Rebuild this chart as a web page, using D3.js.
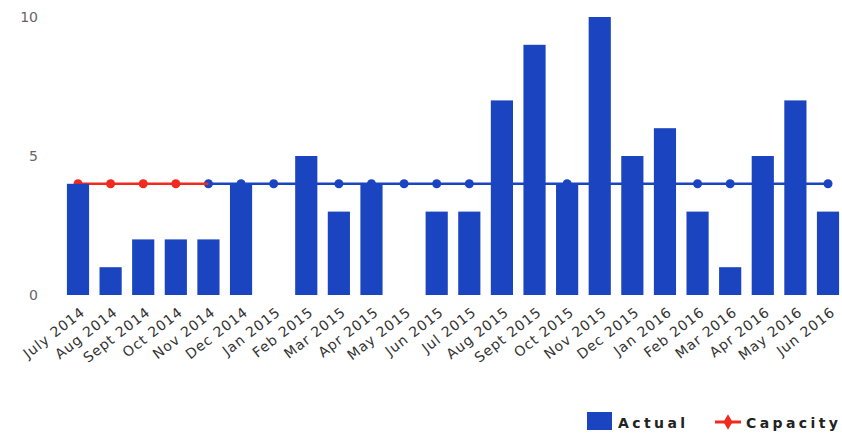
<!DOCTYPE html>
<html><head><meta charset="utf-8">
<script src="https://cdn.jsdelivr.net/npm/d3@7"></script>
<style>body{margin:0;background:#fff}svg{display:block}</style>
</head><body>
<script>
const categories = ["July 2014","Aug 2014","Sept 2014","Oct 2014","Nov 2014","Dec 2014","Jan 2015","Feb 2015","Mar 2015","Apr 2015","May 2015","Jun 2015","Jul 2015","Aug 2015","Sept 2015","Oct 2015","Nov 2015","Dec 2015","Jan 2016","Feb 2016","Mar 2016","Apr 2016","May 2016","Jun 2016"];
const actual = [4,1,2,2,2,4,0,5,3,4,0,3,3,7,9,4,10,5,6,3,1,5,7,3];
const capacity = [4,4,4,4,4,4,4,4,4,4,4,4,4,4,4,4,4,4,4,4,4,4,4,4];
const capacityRedEnd = 4; // red segment covers indices 0..4, blue continues from 4
const yTicks = [0,5,10];

const W = 842, H = 435;
const svg = d3.select("body").append("svg").attr("width", W).attr("height", H);
const x = d3.scalePoint().domain(categories).range([78, 828]);
const step = x.step();
const bw = step * 0.68;
const y = d3.scaleLinear().domain([0, 10]).range([295, 17]);

const BLUE = "#1b45c0", RED = "#f02a1e";

// y axis labels
const yAxis = d3.axisLeft(y).tickValues(yTicks).tickSize(0).tickPadding(0);
const gy = svg.append("g").attr("transform", "translate(38,0)").call(yAxis);
gy.select(".domain").remove();
gy.selectAll("text").attr("fill", "#666").style("font-family", "DejaVu Sans").style("font-size", "14px");

// capacity lines (behind bars)
const line = d3.line().x((d) => x(d.c)).y((d) => y(d.v));
const capData = categories.map((c, i) => ({c, v: capacity[i], i}));
const redData = capData.filter(d => d.i <= capacityRedEnd);
const blueData = capData.filter(d => d.i >= capacityRedEnd);
svg.append("path").datum(blueData).attr("d", line).attr("fill", "none").attr("stroke", BLUE).attr("stroke-width", 2.5);
svg.append("g").selectAll("circle").data(blueData).join("circle")
  .attr("cx", d => x(d.c)).attr("cy", d => y(d.v)).attr("r", 4.5).attr("fill", BLUE);
svg.append("path").datum(redData).attr("d", line).attr("fill", "none").attr("stroke", RED).attr("stroke-width", 2.5);
svg.append("g").selectAll("circle").data(redData.slice(0, capacityRedEnd)).join("circle")
  .attr("cx", d => x(d.c)).attr("cy", d => y(d.v)).attr("r", 4.5).attr("fill", RED);

// bars
svg.append("g").selectAll("rect").data(categories).join("rect")
  .attr("x", c => x(c) - bw / 2).attr("width", bw)
  .attr("y", (c, i) => y(actual[i])).attr("height", (c, i) => y(0) - y(actual[i]))
  .attr("fill", BLUE);

// x axis labels
const xAxis = d3.axisBottom(x).tickSize(0).tickPadding(0);
const gx = svg.append("g").attr("transform", "translate(0,309)").call(xAxis);
gx.select(".domain").remove();
gx.selectAll("text")
  .attr("text-anchor", "end").attr("dy", "0.6em").attr("dx", "0.2em")
  .attr("transform", "rotate(-38)")
  .attr("fill", "#333").style("font-family", "DejaVu Sans").style("font-size", "14px")
  .style("letter-spacing", "0.9px");

// legend
const lg = svg.append("g").attr("font-family", "DejaVu Sans").attr("font-size", 14).attr("font-weight", "bold").attr("letter-spacing", "3.4px");
lg.append("rect").attr("x", 587).attr("y", 412).attr("width", 25).attr("height", 18).attr("fill", BLUE);
lg.append("text").attr("x", 618).attr("y", 428).attr("fill", "#222").text("Actual");
lg.append("line").attr("x1", 715).attr("x2", 741).attr("y1", 422).attr("y2", 422).attr("stroke", RED).attr("stroke-width", 3);
lg.append("path").attr("d", d3.symbol(d3.symbolDiamond, 70)()).attr("transform", "translate(728,422)").attr("fill", RED);
lg.append("text").attr("x", 746).attr("y", 428).attr("fill", "#222").text("Capacity");
</script>
</body></html>
